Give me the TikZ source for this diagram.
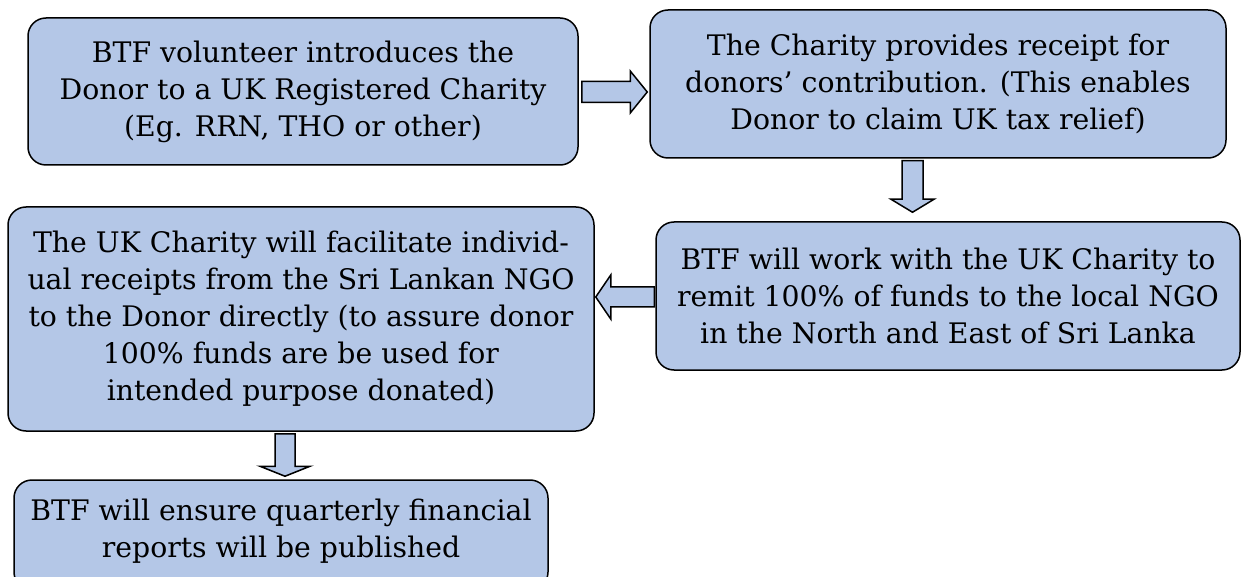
\documentclass[tikz,border=0pt]{standalone}
\usepackage{fontspec}
\setmainfont{DejaVu Serif}
\usetikzlibrary{calc}
\definecolor{boxfill}{HTML}{B4C7E7}
\tikzset{
  flowbox/.style={draw=black, line width=1.5pt, fill=boxfill, rounded corners=18pt,
    align=center, inner sep=0pt, font=\fontsize{28.3}{37}\selectfont},
  blockarrow/.style={draw=black, line width=1.5pt, fill=boxfill, line join=miter}
}
\begin{document}
\begin{tikzpicture}[x=1pt,y=1pt]
\useasboundingbox (0,0) rectangle (1242,-577);
\node[flowbox, minimum width=550pt, minimum height=147pt] (b1) at (303,-91.5)
  {BTF volunteer introduces the\\Donor to a UK Registered Charity\\(Eg. RRN, THO or other)};
\node[flowbox, minimum width=576pt, minimum height=148pt] (b2) at (938,-84)
  {The Charity provides receipt for\\donors’ contribution. (This enables\\Donor to claim UK tax relief)};
\node[flowbox, minimum width=584pt, minimum height=148pt] (b3) at (948,-296)
  {BTF will work with the UK Charity to\\remit 100\% of funds to the local NGO\\in the North and East of Sri Lanka};
\node[flowbox, minimum width=586pt, minimum height=224pt] (b4) at (301,-319)
  {The UK Charity will facilitate individ-\\ual receipts from the Sri Lankan NGO\\to the Donor directly (to assure donor\\100\% funds are be used for\\intended purpose donated)};
\node[flowbox, minimum width=534pt, minimum height=110pt] (b5) at (281,-535)
  {BTF will ensure quarterly financial\\reports will be published\\[-23pt]\mbox{}};
% right arrow b1 -> b2
\coordinate (a1s) at ($(b1.east)+(3,-0.5)$);
\coordinate (a1e) at ($(b2.west|-a1s)+(-2,0)$);
\draw[blockarrow] ($(a1s)+(0,10.5)$) -- ($(a1e)+(-17,10.5)$) -- ($(a1e)+(-17,21)$) -- (a1e)
  -- ($(a1e)+(-17,-21)$) -- ($(a1e)+(-17,-10.5)$) -- ($(a1s)+(0,-10.5)$) -- cycle;
% down arrow b2 -> b3
\coordinate (a2s) at ($(b2.south)+(-25.5,-2)$);
\coordinate (a2e) at ($(b3.north-|a2s)+(0,9)$);
\draw[blockarrow] ($(a2s)+(-10.5,0)$) -- ($(a2e)+(-10.5,13)$) -- ($(a2e)+(-21.5,13)$) -- (a2e)
  -- ($(a2e)+(21.5,13)$) -- ($(a2e)+(10.5,13)$) -- ($(a2s)+(10.5,0)$) -- cycle;
% left arrow b3 -> b4
\coordinate (a3s) at ($(b3.west)+(-1,-1)$);
\coordinate (a3e) at ($(b4.east|-a3s)+(1,0)$);
\draw[blockarrow] ($(a3s)+(0,10)$) -- ($(a3e)+(15,10)$) -- ($(a3e)+(15,22)$) -- (a3e)
  -- ($(a3e)+(15,-22)$) -- ($(a3e)+(15,-10)$) -- ($(a3s)+(0,-10)$) -- cycle;
% down arrow b4 -> b5
\coordinate (a4s) at ($(b4.south)+(-16,-2)$);
\coordinate (a4e) at ($(b5.north-|a4s)+(0,3)$);
\draw[blockarrow] ($(a4s)+(-10,0)$) -- ($(a4e)+(-10,10)$) -- ($(a4e)+(-25,10)$) -- (a4e)
  -- ($(a4e)+(25,10)$) -- ($(a4e)+(10,10)$) -- ($(a4s)+(10,0)$) -- cycle;
\end{tikzpicture}
\end{document}
